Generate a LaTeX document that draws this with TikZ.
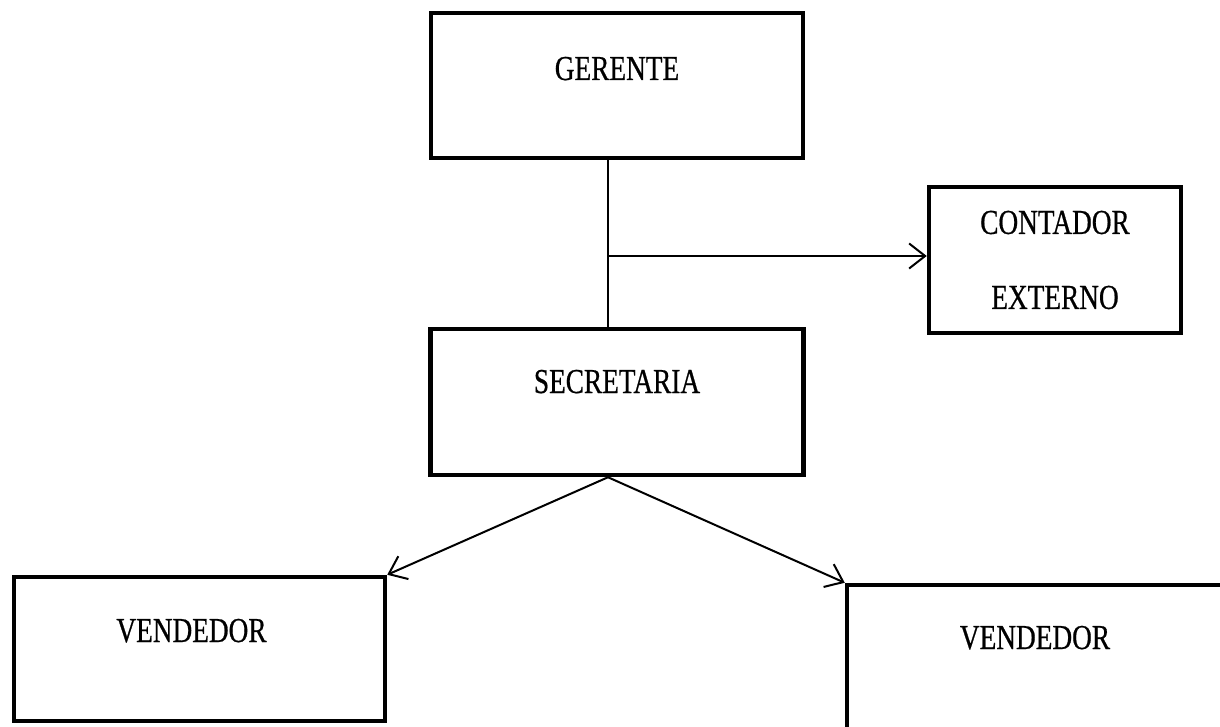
\documentclass[tikz,border=0pt]{standalone}
\usepackage{fontspec}
\setmainfont{Liberation Serif}[FakeStretch=0.78,FakeBold=0.6]
\usetikzlibrary{arrows.meta}

\begin{document}
\begin{tikzpicture}[
  x=0.5pt, y=-0.5pt,
  box/.style={draw, line width=2.25pt, inner sep=0pt,
              font=\fontsize{17.5pt}{21pt}\selectfont},
  conn/.style={line width=1pt},
  arr/.style={conn, -{Straight Barb[length=8pt,width=12.5pt,line width=1pt]}}
]
\useasboundingbox (0,0) rectangle (1220,727);

% organisation chart boxes
\node[box, minimum width=186pt, minimum height=72.5pt,
      text height=33.5pt, text depth=39pt] (gerente) at (617,85.5) {GERENTE};
\node[box, minimum width=186.5pt, minimum height=73pt,
      text height=32pt, text depth=41pt] (secretaria) at (617,402) {SECRETARIA};
\node[box, minimum width=126pt, minimum height=73pt, align=center]
      (contador) at (1055,260) {CONTADOR\\[16.5pt]EXTERNO};
\node[box, minimum width=185.5pt, minimum height=72pt,
      text height=32.5pt, text depth=39.5pt] (vleft) at (199.5,649) {VENDEDOR\hspace*{8pt}};
\node[box, minimum width=188pt, minimum height=72pt,
      text height=32pt, text depth=40pt] (vright) at (1035,657) {VENDEDOR};

% trunk line and the branch to the external accountant
\coordinate (trunk) at (608,256);
\draw[conn] (gerente.south -| trunk) -- (secretaria.north -| trunk);
\draw[arr] (trunk) -- (contador.west |- trunk);

% secretary to the two salesmen
\draw[arr] (secretaria.south -| trunk) -- (vleft.north east);
\draw[arr] (secretaria.south -| trunk) -- (vright.north west);
\end{tikzpicture}
\end{document}
